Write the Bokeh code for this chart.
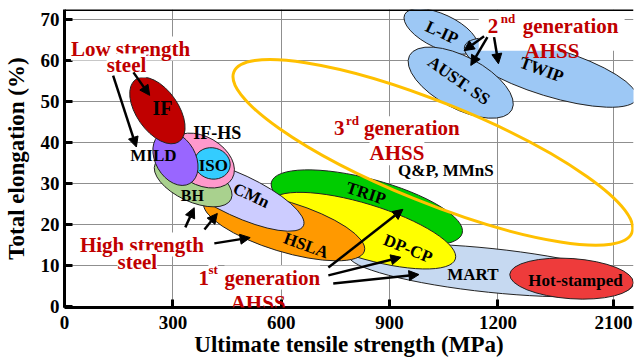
from bokeh.plotting import figure
from bokeh.models import Range1d, FixedTicker, Label, Arrow, NormalHead, Span, ColumnDataSource
from bokeh.embed import file_html
from bokeh.resources import INLINE
from bokeh.core.properties import value

FONT = "'Liberation Serif', 'Times New Roman', serif"
RED = "#C00000"

# ---- data -------------------------------------------------------------
steel = ["MART", "Hot-stamped", "TRIP", "DP-CP", "HSLA", "CMn", "BH", "IF-HS",
         "ISO", "MILD", "IF", "L-IP", "TWIP", "AUST. SS"]
uts_c = [1180, 1404, 837, 826, 608, 481, 356, 378, 409, 307, 257, 1042, 1346, 1097]
el_c = [8.8, 6.8, 24.1, 18.5, 19.5, 27.1, 30.5, 35.6, 34.9, 36.1, 47.8, 67.1, 57.1, 54.6]
uts_w = [791, 343, 547, 536, 465, 398, 232, 199, 100, 160, 210, 221, 498, 321]
el_h = [10.7, 9.8, 14.1, 13.2, 12.2, 10.2, 9.8, 11.7, 7.6, 9.8, 10.2, 8.3, 11.7, 12.7]
tilt = [-6, -4, -15, -17, -17, -25, -25, -30, -15, -60, -55, -25, -17, -28]
fills = ["#C6D9F1", "#EE3B3B", "#00CC00", "#FFFF00", "#FF9900", "#CCCCFF", "#A9D18E",
         "#FF99CC", "#33CCFF", "#9966FF", "#C00000", "#9DC8F5", "#9DC8F5", "#9DC8F5"]

gen3_uts, gen3_el, gen3_w, gen3_h, gen3_tilt = 1020, 37.6, 1189, 24.4, -22

lab_text = ["IF", "IF-HS", "MILD", "ISO", "BH", "CMn", "HSLA", "TRIP", "DP-CP", "MART",
            "Hot-stamped", "L-IP", "AUST. SS", "TWIP"]
lab_x = [271, 423, 246, 412, 354, 517, 669, 835, 951, 1131, 1415, 1045, 1092, 1321]
lab_y = [48.3, 42.2, 36.8, 34.4, 27.1, 27.1, 14.9, 27.6, 14.1, 7.8, 6.3, 66.8, 55.1, 57.8]
lab_ang = [0, 0, 0, 0, 0, -25, -20, -18, -22, 0, 0, -25, -35, -20]
lab_size = [20, 18, 17, 17, 16, 17, 17, 17, 17, 17, 17, 17, 17, 17]

cap_text = ["Low strength", "steel", "High strength", "steel",
            "1", "st", "generation", "AHSS",
            "3", "rd", "generation", "AHSS",
            "2", "nd", "generation", "AHSS"]
cap_x = [182.5, 171.4, 214, 201.5, 370.7, 370.7, 370.7, 536,
         746.2, 746.2, 746.2, 920.4, 1172, 1172, 1172, 1350]
cap_y = [62.9, 58.8, 15.1, 10.8, 7.07, 7.07, 7.07, 0.8,
         43.5, 43.5, 43.5, 37.4, 68.3, 68.3, 68.3, 62.4]
cap_dx = [0, 0, 0, 0, 0, 10, 26, 0, 0, 12, 30, 0, 0, 13, 35, 0]
cap_dy = [0, 0, 0, 0, 0, 8, 0, 0, 0, 8, 0, 0, 0, 8, 0, 0]
cap_size = [21, 21, 21, 21, 21, 13, 21, 21, 21, 13, 21, 21, 21, 13, 21, 21]
cap_align = ["center", "center", "center", "center", "left", "left", "left", "center",
             "left", "left", "left", "center", "left", "left", "left", "center"]
cap_bg = [True, True, True, True, True, True, True, False,
          True, True, True, True, False, False, False, False]

arr_x0 = [190.6, 134.4, 334.3, 387.3, 414.6, 730.5, 730.5, 744, 1161.7, 1171, 1189.4]
arr_y0 = [57.1, 56.3, 19.3, 18.8, 15.4, 9.5, 7.6, 5.6, 65.9, 65.7, 65.7]
arr_x1 = [235.6, 198.8, 359, 423, 514, 937, 931.5, 981.5, 1106.4, 1125, 1201.6]
arr_y1 = [51.5, 38.9, 24.1, 22.7, 16.8, 23.7, 12, 7.8, 62.4, 58.8, 59.2]

x_ticks = [0, 300, 600, 900, 1200, 1520]
x_tick_labels = ["0", "300", "600", "900", "1200", "2100"]
y_ticks = [0, 10, 20, 30, 40, 50, 60, 70]

# ---- figure -----------------------------------------------------------
p = figure(width=635, height=363, output_backend="svg", toolbar_location=None,
           x_range=Range1d(-0.3, 1575.6), y_range=Range1d(-0.24, 72.44),
           min_border_left=63, min_border_right=2, min_border_top=9, min_border_bottom=56)
p.outline_line_color = None
p.background_fill_color = "white"
p.border_fill_color = "white"

p.xaxis.ticker = FixedTicker(ticks=x_ticks)
p.xaxis.major_label_overrides = {t: l for t, l in zip(x_ticks, x_tick_labels)}
p.yaxis.ticker = FixedTicker(ticks=y_ticks)
p.xaxis.axis_label = "Ultimate tensile strength (MPa)"
p.yaxis.axis_label = "Total elongation (%)"
for ax in (p.xaxis, p.yaxis):
    ax.axis_line_width = 3
    ax.axis_line_color = "black"
    ax.major_tick_line_width = 3
    ax.major_tick_in = 8
    ax.major_tick_out = 0
    ax.minor_tick_line_color = None
    ax.major_label_text_font = FONT
    ax.major_label_text_font_style = "bold"
    ax.major_label_text_font_size = "19px"
    ax.major_label_text_color = "black"
    ax.axis_label_text_font = FONT
    ax.axis_label_text_font_style = "bold"
    ax.axis_label_text_font_size = "23px"
    ax.axis_label_text_color = "black"
p.xaxis.major_label_standoff = 8
p.xaxis.axis_label_standoff = 0
p.yaxis.major_label_standoff = 5
p.yaxis.axis_label_standoff = 9

p.xgrid.ticker = FixedTicker(ticks=x_ticks)
p.ygrid.ticker = FixedTicker(ticks=y_ticks)
for g in (p.xgrid, p.ygrid):
    g.grid_line_color = "#8f8f8f"
    g.grid_line_width = 1

p.add_layout(Span(location=72.44, dimension="width", line_color="black", line_width=3))

src = ColumnDataSource(dict(x=uts_c, y=el_c, w=uts_w, h=el_h, a=tilt, c=fills))
p.ellipse(x="x", y="y", width="w", height="h", angle="a", angle_units="deg", source=src,
          fill_color="c", line_color="#222222", line_width=1)

p.ellipse(x=[gen3_uts], y=[gen3_el], width=[gen3_w], height=[gen3_h], angle=[gen3_tilt],
          angle_units="deg", fill_color=None, line_color="#FFC000", line_width=3)

p.quad(left=[1147], right=[1551], bottom=[62.4], top=[72.44], fill_color="white",
       line_color=None)

lsrc = ColumnDataSource(dict(x=lab_x, y=lab_y, t=lab_text, a=lab_ang,
                             s=[f"{s}px" for s in lab_size]))
p.text(x="x", y="y", text="t", angle="a", angle_units="deg", source=lsrc,
       text_font=value(FONT), text_font_style="bold", text_font_size="s",
       text_align="center", text_baseline="middle", text_color="black")

p.add_layout(Label(x=1056, y=33.2, text="Q&P, MMnS", text_font=FONT, text_font_style="bold",
                   text_font_size="17px", text_align="center", text_baseline="middle",
                   text_color="black", background_fill_color="white"))

for t, x, y, dx, dy, s, al, bg in zip(cap_text, cap_x, cap_y, cap_dx, cap_dy, cap_size,
                                      cap_align, cap_bg):
    p.add_layout(Label(x=x, y=y, x_offset=dx, y_offset=dy, text=t, text_font=FONT,
                       text_font_style="bold", text_font_size=f"{s}px", text_align=al,
                       text_baseline="alphabetic", text_color=RED,
                       background_fill_color="white" if bg else None))

asrc = ColumnDataSource(dict(x0=arr_x0, y0=arr_y0, x1=arr_x1, y1=arr_y1))
p.add_layout(Arrow(x_start="x0", y_start="y0", x_end="x1", y_end="y1", source=asrc,
                   line_width=2.5, line_color="black",
                   end=NormalHead(size=10, fill_color="black", line_color="black")))

open("out.html", "w").write(file_html(p, INLINE))
